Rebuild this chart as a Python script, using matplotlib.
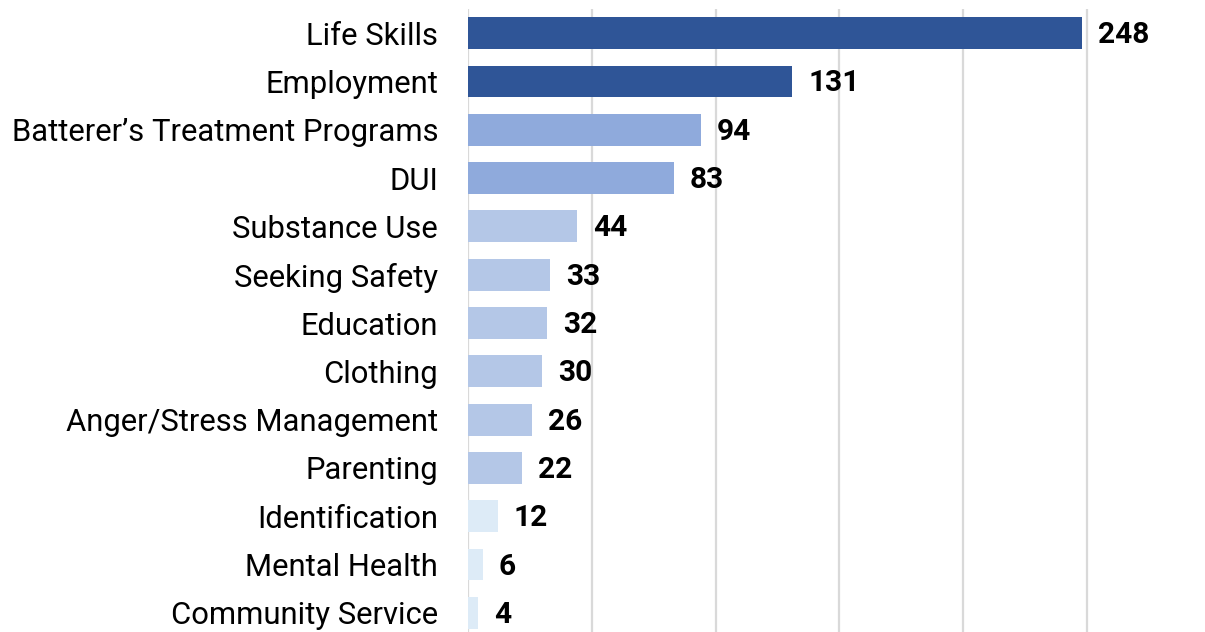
import matplotlib.pyplot as plt

plt.rcParams['font.family'] = ['Roboto', 'DejaVu Sans']

categories = [
    "Life Skills", "Employment", "Batterer\u2019s Treatment Programs", "DUI",
    "Substance Use", "Seeking Safety", "Education", "Clothing",
    "Anger/Stress Management", "Parenting", "Identification",
    "Mental Health", "Community Service",
]
values = [248, 131, 94, 83, 44, 33, 32, 30, 26, 22, 12, 6, 4]
colors = (["#2F5597"] * 2 + ["#8FAADC"] * 2 + ["#B4C7E7"] * 6
          + ["#DDEBF7"] * 3)

fig = plt.figure(figsize=(12.05, 6.32), dpi=100)
ax = fig.add_axes([468 / 1205, -5 / 632, 1 - 468 / 1205, 628 / 632])

y = list(range(len(categories)))
ax.barh(y, values, height=0.66, color=colors, zorder=3)

for yi, v in zip(y, values):
    ax.annotate(str(v), (v, yi), xytext=(16, -2), textcoords="offset pixels",
                ha="left", va="center", fontsize=21.5, fontweight="bold",
                color="black", zorder=4)

ax.set_ylim(len(categories) - 0.5, -0.5)
ax.set_xlim(0, 297.6)
ax.set_xticks([0, 50, 100, 150, 200, 250])
ax.tick_params(axis="x", length=0, labelbottom=False)
ax.tick_params(axis="y", length=0, pad=21.5)
ax.set_yticks(y)
ax.set_yticklabels(categories, fontsize=22.3)

ax.grid(axis="x", color="#D9D9D9", linewidth=1.6, zorder=0)
for s in ["top", "right", "bottom", "left"]:
    ax.spines[s].set_visible(False)

fig.savefig("out.png", dpi=100)
